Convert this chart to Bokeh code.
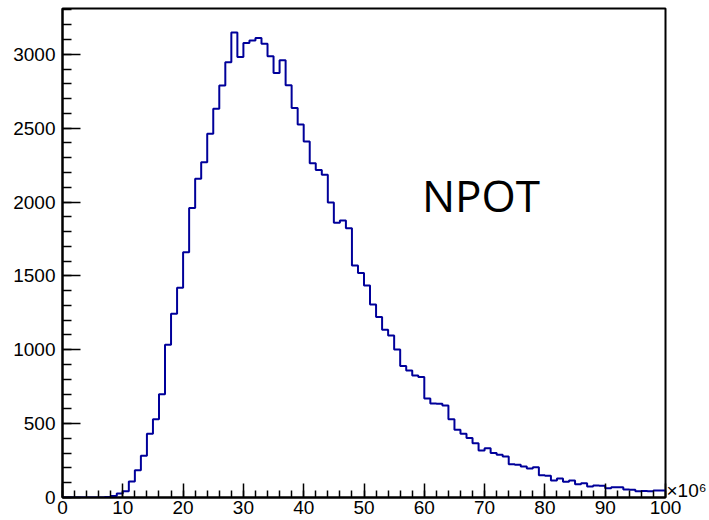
from bokeh.plotting import figure
from bokeh.models import Range1d, Label, FixedTicker, LinearAxis
from bokeh.embed import file_html
from bokeh.resources import INLINE

# histogram: 100 bins of width 1 (x in units of 1e6), counts per bin
bin_edges = list(range(0, 101))
counts = [
    0, 0, 0, 0, 0, 0, 0, 3, 10, 27,
    43, 108, 185, 282, 431, 530, 699, 1034, 1244, 1420,
    1660, 1960, 2158, 2270, 2462, 2632, 2789, 2947, 3148, 2981,
    3076, 3094, 3110, 3072, 2986, 2873, 2959, 2790, 2636, 2524,
    2409, 2262, 2216, 2185, 1997, 1860, 1875, 1823, 1570, 1520,
    1435, 1307, 1221, 1135, 1097, 1002, 890, 860, 826, 815,
    670, 636, 634, 623, 530, 458, 431, 402, 368, 318,
    334, 302, 289, 278, 225, 221, 210, 196, 205, 150,
    148, 115, 128, 106, 115, 90, 97, 74, 81, 80,
    63, 70, 69, 54, 53, 43, 44, 42, 47, 47,
]
x_ticks = [0, 10, 20, 30, 40, 50, 60, 70, 80, 90, 100]
y_ticks = [0, 500, 1000, 1500, 2000, 2500, 3000]
title_text = "NPOT"
exp_text = "×10\u2076"

p = figure(width=709, height=520, output_backend="svg", toolbar_location=None,
           x_range=Range1d(0, 100), y_range=Range1d(0, 3310),
           min_border_left=62, min_border_right=0, min_border_top=8, min_border_bottom=23)
p.background_fill_color = "white"
p.border_fill_color = "white"
p.grid.visible = False
p.outline_line_color = "black"
p.outline_line_width = 2

p.step(x=bin_edges, y=counts + [counts[-1]], mode="after",
       line_color="#00009a", line_width=2)

for ax in (p.xaxis[0], p.yaxis[0]):
    ax.axis_line_color = "black"
    ax.axis_line_width = 2
    ax.major_tick_line_color = "black"
    ax.minor_tick_line_color = "black"
    ax.major_tick_line_width = 1.5
    ax.minor_tick_line_width = 1.5
    ax.major_tick_out = 0
    ax.minor_tick_out = 0
    ax.major_label_text_font = "Liberation Sans"
    ax.major_label_text_font_size = "19px"
    ax.major_label_text_color = "black"

p.xaxis.ticker = FixedTicker(ticks=x_ticks, minor_ticks=list(range(0, 101, 2)))
p.yaxis.ticker = FixedTicker(ticks=y_ticks, minor_ticks=list(range(0, 3301, 100)))
p.xaxis.major_tick_in = 14
p.xaxis.minor_tick_in = 7
p.yaxis.major_tick_in = 18
p.yaxis.minor_tick_in = 9
p.xaxis.major_label_standoff = 3
p.yaxis.major_label_standoff = 7

p.add_layout(Label(x=59.6, y=2045, text=title_text, text_font="Open Sans",
                   text_font_size="44px", text_color="black", text_baseline="alphabetic"))

# exponent marker "×10^6" to the right of the x axis end, drawn as an axis tick label
exp_ax = LinearAxis(ticker=FixedTicker(ticks=[47]), major_label_overrides={47: exp_text})
exp_ax.axis_line_color = None
exp_ax.major_tick_line_color = None
exp_ax.minor_tick_line_color = None
exp_ax.major_tick_in = 0
exp_ax.major_tick_out = 0
exp_ax.major_label_standoff = 1
exp_ax.major_label_text_font = "Liberation Sans"
exp_ax.major_label_text_font_size = "19px"
exp_ax.major_label_text_color = "black"
p.add_layout(exp_ax, "right")

open("out.html", "w").write(file_html(p, INLINE))
